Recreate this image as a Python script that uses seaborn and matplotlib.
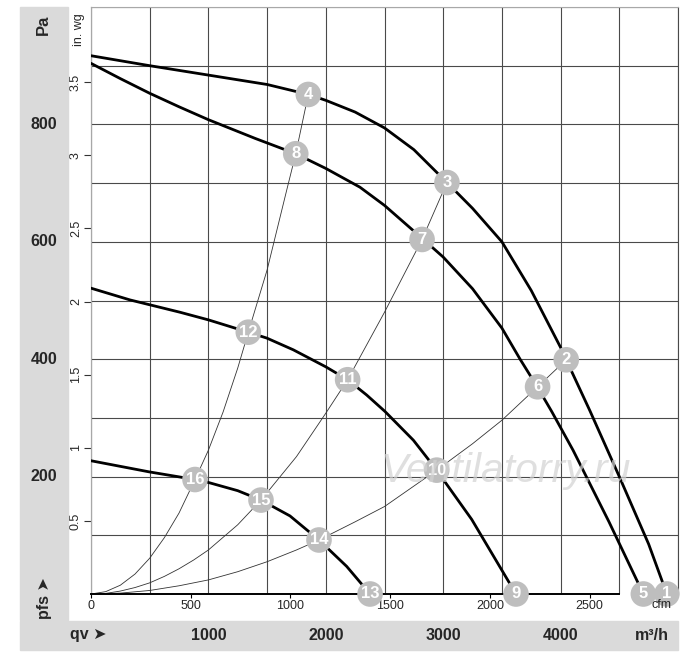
import numpy as np
import pandas as pd
import seaborn as sns
import matplotlib.pyplot as plt
from matplotlib.patches import Rectangle
from matplotlib.transforms import blended_transform_factory

# %% Datos (qv en m³/h, pfs en Pa).

# Curvas del ventilador (trazo grueso).
q_a = [0, 500, 1000, 1500, 1851, 2000, 2250, 2500, 2750, 3032, 3250, 3500, 3750, 4000, 4048, 4250, 4500, 4750, 4905]
p_a = [917, 900, 884, 868, 851, 841, 821, 794, 757, 701, 657, 600, 517, 420, 399, 312, 200, 85, 0]

q_b = [0, 250, 500, 750, 1000, 1400, 1744, 2000, 2291, 2500, 2820, 3000, 3250, 3500, 3655, 3804, 3924, 4106, 4412, 4705]
p_b = [904, 878, 853, 830, 808, 776, 750, 725, 693, 662, 606, 574, 520, 453, 400, 352, 311, 245, 123, 0]

q_c = [0, 332, 758, 1000, 1340, 1497, 1723, 2000, 2186, 2348, 2504, 2746, 2945, 3015, 3243, 3620]
p_c = [521, 501, 480, 467, 446, 436, 416, 387, 365, 339, 311, 262, 211, 191, 127, 0]

q_d = [0, 497, 886, 1000, 1250, 1448, 1695, 1942, 2178, 2377]
p_d = [227, 208, 195, 190, 176, 160, 133, 92, 47, 0]

# Curvas de instalación (trazo fino).
q_s1 = [0, 125, 250, 375, 500, 625, 750, 886, 1000, 1125, 1250, 1340, 1500, 1667, 1744, 1851]
p_s1 = [0, 4, 15, 34, 61, 96, 138, 195, 245, 310, 385, 446, 552, 688, 750, 851]

q_s2 = [0, 125, 250, 375, 500, 625, 750, 875, 1000, 1250, 1448, 1750, 2000, 2186, 2500, 2820, 3032]
p_s2 = [0, 1, 5, 11, 19, 30, 43, 58, 75, 118, 160, 234, 308, 365, 480, 604, 701]

q_s3 = [0, 250, 500, 750, 1000, 1250, 1500, 1750, 1942, 2250, 2500, 2945, 3250, 3500, 3804, 4048]
p_s3 = [0, 1.5, 6, 14, 24, 38, 55, 75, 92, 123, 149, 211, 256, 296, 353, 399]

# Puntos de trabajo numerados.
num_puntos = [1, 2, 3, 4, 5, 6, 7, 8, 9, 10, 11, 12, 13, 14, 15, 16]
q_puntos = [4905, 4048, 3032, 1851, 4705, 3804, 2820, 1744, 3620, 2945, 2186, 1340, 2377, 1942, 1448, 886]
p_puntos = [0, 399, 701, 851, 0, 353, 604, 750, 0, 211, 365, 446, 0, 92, 160, 195]

# Etiquetas de ejes.
pa_ticks = [200, 400, 600, 800]
m3h_ticks = [1000, 2000, 3000, 4000]
inwg_ticks = [0.5, 1, 1.5, 2, 2.5, 3, 3.5]
cfm_ticks = [0, 500, 1000, 1500, 2000, 2500]

# %% Figura.
sns.set_style('white')
plt.rcParams['font.family'] = ['Liberation Sans', 'DejaVu Sans']

W, H = 700, 663
fig = plt.figure(figsize=(W / 100, H / 100), dpi=100)

def fx(px):
    return px / W

def fy(py):
    return (H - py) / H

ax = fig.add_axes([fx(91), fy(594), fx(678) - fx(91), fy(7) - fy(594)])

# Bandas grises.
fig.patches.append(Rectangle((fx(20), fy(620)), fx(48), fy(7) - fy(620),
                             transform=fig.transFigure, color='#dadada', zorder=0))
fig.patches.append(Rectangle((fx(20), fy(650)), fx(658), fy(621) - fy(650),
                             transform=fig.transFigure, color='#dadada', zorder=0))

color_grid = '#4a4a4a'
ax.set_xlim(0, 5000)
ax.set_ylim(0, 1000)
ax.set_xticks(np.arange(0, 5001, 500))
ax.set_yticks(np.arange(100, 1001, 100))
ax.tick_params(length=0, labelbottom=False, labelleft=False)
ax.grid(True, color=color_grid, lw=0.8)
for lado in ['top', 'right', 'left']:
    ax.spines[lado].set_color(color_grid)
    ax.spines[lado].set_linewidth(0.8)
ax.spines['left'].set_color('#a8a8a8')
ax.spines['top'].set_color('#a8a8a8')
ax.spines['bottom'].set_color('black')
ax.spines['bottom'].set_linewidth(1.4)
ax.spines['bottom'].set_bounds(0, 4500)

# Curvas de instalación.
for q, p in [(q_s1, p_s1), (q_s2, p_s2), (q_s3, p_s3)]:
    df = pd.DataFrame({'q': q, 'p': p})
    sns.lineplot(data=df, x='q', y='p', ax=ax, color='#333333', lw=0.6, estimator=None, zorder=2)

# Curvas del ventilador.
for q, p in [(q_a, p_a), (q_b, p_b), (q_c, p_c), (q_d, p_d)]:
    df = pd.DataFrame({'q': q, 'p': p})
    sns.lineplot(data=df, x='q', y='p', ax=ax, color='black', lw=2.0, estimator=None, zorder=3)

# Puntos de trabajo.
df_puntos = pd.DataFrame({'q': q_puntos, 'p': p_puntos, 'n': num_puntos})
sns.scatterplot(data=df_puntos, x='q', y='p', ax=ax, s=340, color='#bebebe',
                edgecolor='none', zorder=5, clip_on=False, legend=False)
for q, p, n in zip(q_puntos, p_puntos, num_puntos):
    ax.text(q, p, str(n), color='white', fontsize=12, fontweight='bold',
            ha='center', va='center', zorder=6, clip_on=False)
ax.set_xlabel('')
ax.set_ylabel('')

# Marca de agua.
ax.text(0.707, 0.21, 'Ventilatorry.ru', transform=ax.transAxes, fontsize=29.5,
        style='italic', color='#d2d2d2', alpha=0.7, ha='center', va='center', zorder=7)

# Eje secundario en in. wg.
ax_inwg = ax.secondary_yaxis('left', functions=(lambda p: p / 249.09, lambda w: w * 249.09))
ax_inwg.set_yticks(inwg_ticks)
ax_inwg.set_yticklabels([f'{v:g}' for v in inwg_ticks], rotation=90, va='center')
ax_inwg.tick_params(length=5, width=0.8, color='#333333', labelsize=9, pad=1.5)
ax_inwg.spines['left'].set_color('#a8a8a8')
ax_inwg.spines['left'].set_linewidth(0.8)

# Eje secundario en cfm.
ax_cfm = ax.secondary_xaxis('bottom', functions=(lambda q: q / 1.699, lambda c: c * 1.699))
ax_cfm.set_xticks(cfm_ticks)
ax_cfm.set_xticklabels([str(v) for v in cfm_ticks])
ax_cfm.tick_params(length=3, width=0.8, color='black', labelsize=9, pad=1)
ax_cfm.spines['bottom'].set_visible(False)

# Etiquetas en las bandas grises.
trans_y = blended_transform_factory(fig.transFigure, ax.transData)
for v in pa_ticks:
    fig.text(fx(44), v, str(v), transform=trans_y, fontsize=11.5, fontweight='bold',
             ha='center', va='center')
trans_x = blended_transform_factory(ax.transData, fig.transFigure)
for v in m3h_ticks:
    fig.text(v, fy(635), str(v), transform=trans_x, fontsize=11.5, fontweight='bold',
             ha='center', va='center')

fig.text(fx(43), fy(25), 'Pa', fontsize=12, fontweight='bold', rotation=90, ha='center', va='center')
fig.text(fx(79), fy(30), 'in. wg', fontsize=9, rotation=90, ha='center', va='center')
fig.text(fx(44), fy(598), 'pfs ➤', fontsize=11.5, fontweight='bold', rotation=90,
         ha='center', va='center')
fig.text(fx(88), fy(635), 'qv ➤', fontsize=11.5, fontweight='bold', ha='center', va='center')
fig.text(fx(652), fy(635), 'm³/h', fontsize=11.5, fontweight='bold', ha='center', va='center')
fig.text(fx(662), fy(605), 'cfm', fontsize=9, ha='center', va='center', zorder=1)

fig.savefig('out.png', dpi=100)
